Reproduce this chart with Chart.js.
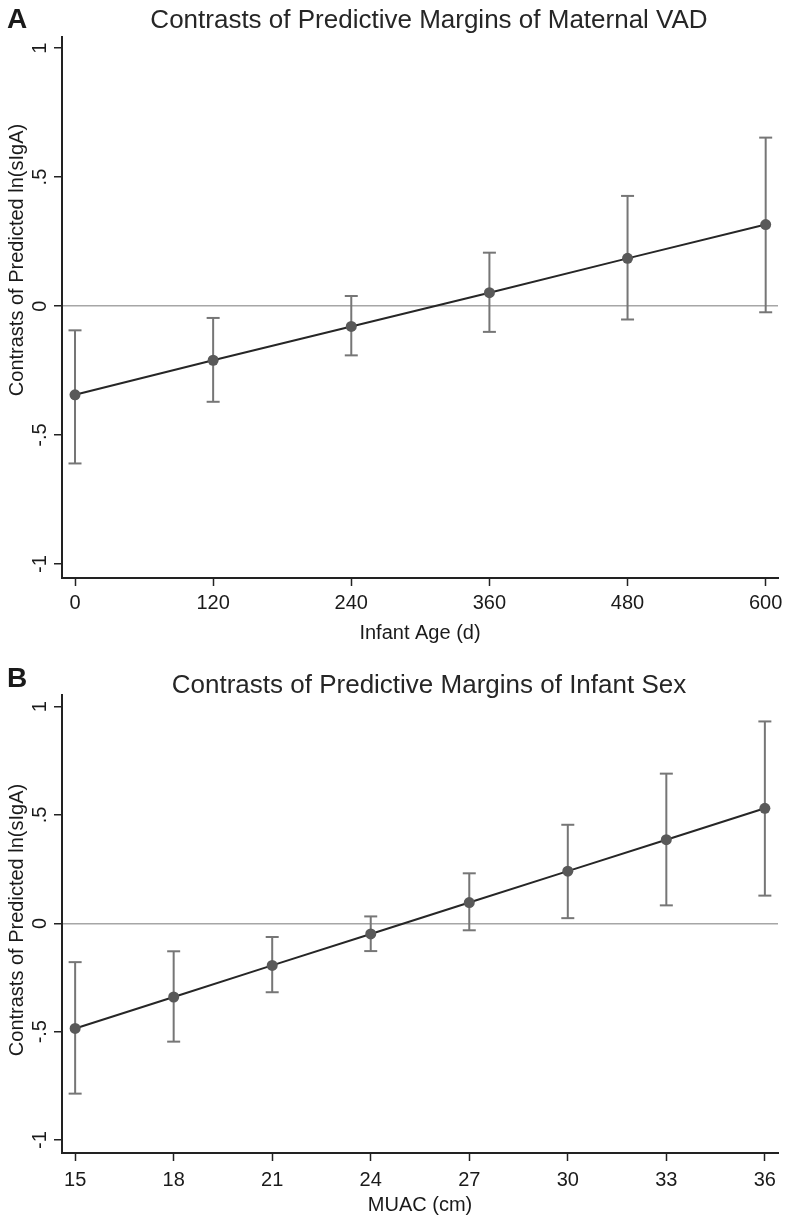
<!DOCTYPE html>
<html>
<head>
<meta charset="utf-8">
<script src="https://cdn.jsdelivr.net/npm/chart.js@4.4.1/dist/chart.umd.min.js"></script>
<style>
  body { margin: 0; background: #fff; }
  canvas { display: block; }
</style>
</head>
<body>
<canvas id="panelA" width="800" height="650"></canvas>
<canvas id="panelB" width="800" height="581"></canvas>
<script>
// shared y axis
const yTickValues = [-1, -0.5, 0, 0.5, 1]
const yTickLabels = ["-1", "-.5", "0", ".5", "1"]
const yTitle = "Contrasts of Predicted ln(sIgA)"

// panel A: maternal VAD by infant age
const ageDays = [0, 120, 240, 360, 480, 600]
const vadContrast = [-0.344, -0.210, -0.079, 0.052, 0.185, 0.316]
const vadLower = [-0.610, -0.371, -0.191, -0.100, -0.052, -0.024]
const vadUpper = [-0.094, -0.046, 0.039, 0.207, 0.427, 0.653]

// panel B: infant sex by MUAC
const muacCm = [15, 18, 21, 24, 27, 30, 33, 36]
const sexContrast = [-0.485, -0.340, -0.194, -0.049, 0.096, 0.241, 0.386, 0.531]
const sexLower = [-0.786, -0.546, -0.318, -0.128, -0.032, 0.024, 0.083, 0.128]
const sexUpper = [-0.179, -0.129, -0.063, 0.032, 0.231, 0.455, 0.691, 0.932]

const FONT = "'Liberation Sans', Arial, sans-serif"
const INK = "#1a1a1a"

// letters, titles and rotated y labels (Stata style)
const panelText = {
  id: "panelText",
  afterDraw(chart, args, opts) {
    const ctx = chart.ctx
    const yScale = chart.scales.y
    ctx.save()
    ctx.fillStyle = INK

    ctx.font = "bold 28px " + FONT
    ctx.textAlign = "left"
    ctx.textBaseline = "alphabetic"
    ctx.fillText(opts.letter, 7, opts.letterBase)

    ctx.font = "26px " + FONT
    ctx.textAlign = "center"
    ctx.fillStyle = "#262626"
    ctx.fillText(opts.title, 429, opts.titleBase)
    ctx.fillStyle = INK

    ctx.font = "20px " + FONT
    ctx.textBaseline = "middle"
    yTickValues.forEach((v, i) => {
      ctx.save()
      ctx.translate(40, yScale.getPixelForValue(v))
      ctx.rotate(-Math.PI / 2)
      ctx.fillText(yTickLabels[i], 0, 0)
      ctx.restore()
    })

    ctx.save()
    ctx.translate(17, opts.yTitleY)
    ctx.rotate(-Math.PI / 2)
    ctx.fillText(yTitle, 0, 0)
    ctx.restore()

    ctx.restore()
  }
}

function errorPoints(xs, lo, hi) {
  const pts = []
  xs.forEach((x, i) => {
    pts.push({ x: x, y: lo[i] }, { x: x, y: hi[i] }, { x: x, y: null })
  })
  return pts
}

function makePanel(id, p) {
  const ctx = document.getElementById(id).getContext("2d")
  return new Chart(ctx, {
    type: "scatter",
    data: {
      datasets: [
        {
          label: "Contrast",
          data: p.xs.map((x, i) => ({ x: x, y: p.est[i] })),
          showLine: true,
          borderColor: "#262626",
          borderWidth: 2,
          pointRadius: 5.5,
          pointBackgroundColor: "#595959",
          pointBorderColor: "#595959",
          pointBorderWidth: 0,
          order: 0
        },
        {
          label: "95% CI",
          data: errorPoints(p.xs, p.lo, p.hi),
          showLine: true,
          spanGaps: false,
          borderColor: "#767676",
          borderWidth: 2,
          pointStyle: "line",
          pointRadius: 6.5,
          pointBorderColor: "#767676",
          pointBorderWidth: 2,
          order: 1
        }
      ]
    },
    options: {
      responsive: false,
      animation: false,
      layout: { padding: { top: p.top, right: 22, left: 0, bottom: 0 } },
      plugins: {
        legend: { display: false },
        tooltip: { enabled: false },
        panelText: p.text
      },
      scales: {
        x: {
          type: "linear",
          min: p.xMin,
          max: p.xMax,
          afterBuildTicks: scale => { scale.ticks = p.xs.map(v => ({ value: v })) },
          afterFit: scale => { scale.height = p.xHeight },
          border: { display: true, color: "#222", width: 2 },
          grid: { drawOnChartArea: false, drawTicks: true, tickLength: 8, tickColor: "#222", tickWidth: 1.5 },
          ticks: { color: INK, font: { family: FONT, size: 20 }, padding: p.tickPad, maxRotation: 0 },
          title: {
            display: true,
            text: p.xTitle,
            color: INK,
            font: { family: FONT, size: 20 },
            padding: { top: 0, bottom: p.xTitlePad }
          }
        },
        y: {
          min: p.yMin,
          max: p.yMax,
          afterBuildTicks: scale => { scale.ticks = yTickValues.map(v => ({ value: v })) },
          afterFit: scale => { scale.width = 62 },
          border: { display: true, color: "#222", width: 2 },
          grid: {
            color: c => (c.tick && c.tick.value === 0 ? "#a6a6a6" : "rgba(0,0,0,0)"),
            lineWidth: 1.5,
            drawTicks: true,
            tickLength: 8,
            tickColor: "#222",
            tickWidth: 1.5
          },
          ticks: { color: "rgba(0,0,0,0)", font: { family: FONT, size: 20 } }
        }
      }
    },
    plugins: [panelText]
  })
}

makePanel("panelA", {
  xs: ageDays, est: vadContrast, lo: vadLower, hi: vadUpper,
  xMin: -11.3, xMax: 610.7, yMin: -1.054, yMax: 1.043,
  top: 37, xHeight: 72, xTitle: "Infant Age (d)", xTitlePad: 5, tickPad: 5,
  text: { letter: "A", letterBase: 28, title: "Contrasts of Predictive Margins of Maternal VAD", titleBase: 28, yTitleY: 260 }
})

makePanel("panelB", {
  xs: muacCm, est: sexContrast, lo: sexLower, hi: sexUpper,
  xMin: 14.6, xMax: 36.4, yMin: -1.06, yMax: 1.054,
  top: 45, xHeight: 78, xTitle: "MUAC (cm)", xTitlePad: 14, tickPad: 7,
  text: { letter: "B", letterBase: 37, title: "Contrasts of Predictive Margins of Infant Sex", titleBase: 43, yTitleY: 270 }
})
</script>
</body>
</html>
